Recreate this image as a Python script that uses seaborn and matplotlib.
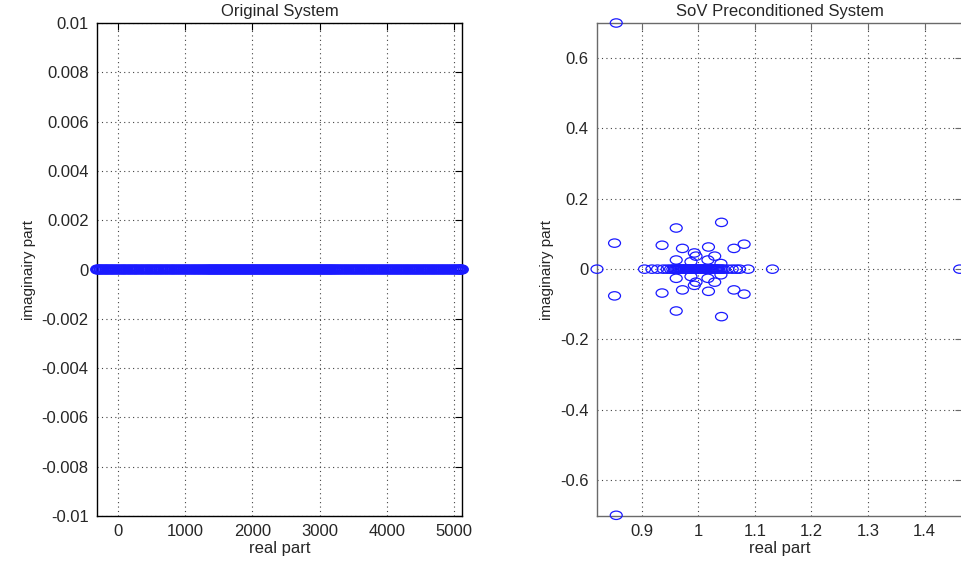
import numpy as np
import matplotlib
matplotlib.use("Agg")
import matplotlib.pyplot as plt
from matplotlib.path import Path
import seaborn as sns
import pandas as pd

# ---------------- data ----------------
left_real = [-312, -290, -262, -236, -205, -176, -150, -118, -90, -60, -28, 4, 36, 70, 98, 132,
             165, 196, 230, 262, 292, 330, 360, 395, 428, 460, 492, 525, 560, 590, 625, 655,
             690, 722, 755, 790, 820, 852, 885, 918, 950, 985, 1015, 1048, 1080, 1115, 1145,
             1178, 1210, 1240, 1272, 1300, 1330, 1355, 1380, 1405, 1430, 1455, 1480, 1505,
             1530, 1555, 1580, 1605, 1630, 1655, 1680, 1705, 1730, 1755, 1780, 1805, 1830,
             1855, 1880, 1905, 1930, 1955, 1980, 2005, 2030, 2055, 2080, 2105, 2130, 2155,
             2180, 2205, 2230, 2255, 2280, 2305, 2330, 2355, 2380, 2405, 2430, 2455, 2480,
             2505, 2530, 2555, 2580, 2605, 2630, 2655, 2680, 2705, 2730, 2755, 2780, 2805,
             2830, 2855, 2880, 2905, 2930, 2955, 2980, 3005, 3030, 3055, 3080, 3105, 3130,
             3155, 3180, 3205, 3235, 3262, 3295, 3325, 3358, 3390, 3422, 3455, 3488, 3520,
             3552, 3585, 3618, 3650, 3682, 3715, 3748, 3780, 3812, 3845, 3878, 3910, 3942,
             3975, 4008, 4040, 4072, 4105, 4138, 4170, 4202, 4235, 4268, 4300, 4332, 4365,
             4398, 4430, 4462, 4495, 4528, 4560, 4592, 4625, 4658, 4690, 4722, 4755, 4788,
             4820, 4852, 4885, 4918, 4950, 4982, 5012, 5040, 5065, 5090, 5105, 5120]
left_imag = [0.0] * len(left_real)

right_real_axis = [0.821, 0.905, 0.918, 0.928, 0.938, 0.945, 0.951, 0.955, 0.958, 0.960,
                   0.962, 0.964, 0.966, 0.968, 0.970, 0.972, 0.974, 0.976, 0.978, 0.980,
                   0.982, 0.984, 0.986, 0.988, 0.990, 0.992, 0.994, 0.996, 0.998, 1.000,
                   1.002, 1.004, 1.006, 1.008, 1.010, 1.012, 1.014, 1.016, 1.018, 1.020,
                   1.022, 1.024, 1.026, 1.028, 1.030, 1.032, 1.034, 1.036, 1.039, 1.042,
                   1.045, 1.052, 1.060, 1.067, 1.073, 1.088, 1.131, 1.462]
right_cplx_re = [0.855, 0.855, 0.852, 0.852, 0.961, 0.961, 1.041, 1.041,
                 0.936, 0.936, 0.972, 0.972, 1.018, 1.018, 1.063, 1.063,
                 1.081, 1.081, 0.993, 0.993, 0.996, 0.996, 1.029, 1.029,
                 0.961, 0.961, 0.987, 0.987, 1.017, 1.017, 1.040, 1.040]
right_cplx_im = [0.700, -0.700, 0.074, -0.076, 0.117, -0.119, 0.133, -0.135,
                 0.068, -0.068, 0.059, -0.059, 0.063, -0.063, 0.059, -0.059,
                 0.071, -0.071, 0.046, -0.046, 0.037, -0.037, 0.037, -0.037,
                 0.026, -0.026, 0.021, -0.021, 0.026, -0.026, 0.016, -0.016]

left_xticks = [0, 1000, 2000, 3000, 4000, 5000]
left_yticks = [-0.01, -0.008, -0.006, -0.004, -0.002, 0, 0.002, 0.004, 0.006, 0.008, 0.01]
left_yticklabels = ["-0.01", "-0.008", "-0.006", "-0.004", "-0.002", "0",
                    "0.002", "0.004", "0.006", "0.008", "0.01"]
right_xticks = [0.9, 1.0, 1.1, 1.2, 1.3, 1.4]
right_xticklabels = ["0.9", "1", "1.1", "1.2", "1.3", "1.4"]
right_yticks = [-0.6, -0.4, -0.2, 0, 0.2, 0.4, 0.6]
right_yticklabels = ["-0.6", "-0.4", "-0.2", "0", "0.2", "0.4", "0.6"]

titles = ["Original System", "SoV Preconditioned System"]
xlabel = "real part"
ylabel = "imaginairy part"

# ---------------- style ----------------
sns.set_style("white")
plt.rcParams['font.family'] = ['Liberation Sans', 'DejaVu Sans']

fig = plt.figure(figsize=(9.61, 5.63), dpi=100)
ax1 = fig.add_axes([97 / 961, 1 - 516 / 563, 365 / 961, 493 / 563])
ax2 = fig.add_axes([597 / 961, 1 - 516 / 563, 365 / 961, 493 / 563])

circ = Path.unit_circle()
ell = Path(circ.vertices * np.array([1.0, 0.7]), circ.codes)

df1 = pd.DataFrame({"re": left_real, "im": left_imag})
df2 = pd.DataFrame({"re": right_real_axis + right_cplx_re,
                    "im": [0.0] * len(right_real_axis) + right_cplx_im})

for ax, df, lw in ((ax1, df1, 1.4), (ax2, df2, 0.9)):
    sns.scatterplot(data=df, x="re", y="im", ax=ax, marker=ell, s=74,
                    facecolors="none", edgecolor="#1a1aff", linewidth=lw,
                    clip_on=False, zorder=3)

ax1.set_xlim(-312, 5120)
ax1.set_ylim(-0.01, 0.01)
ax1.set_xticks(left_xticks)
ax1.set_yticks(left_yticks)
ax1.set_yticklabels(left_yticklabels)

ax2.set_xlim(0.821, 1.466)
ax2.set_ylim(-0.702, 0.7)
ax2.set_xticks(right_xticks)
ax2.set_xticklabels(right_xticklabels)
ax2.set_yticks(right_yticks)
ax2.set_yticklabels(right_yticklabels)

for ax, title, sc in ((ax1, titles[0], "black"), (ax2, titles[1], "#6a6a6a")):
    ax.set_title(title, fontsize=12, pad=5)
    ax.set_xlabel(xlabel, fontsize=12, labelpad=1)
    ax.set_ylabel(ylabel, fontsize=11, labelpad=4)
    ax.grid(True, linestyle=(0, (1, 3)), color="#444444", linewidth=0.8)
    ax.tick_params(direction="in", top=True, right=True, length=5,
                   labelsize=12, color=sc, pad=6)
    for sp in ax.spines.values():
        sp.set_color(sc)
        sp.set_linewidth(1.0)
        sp.set_visible(True)
    ax.set_axisbelow(True)

fig.savefig("out.png", dpi=100)
